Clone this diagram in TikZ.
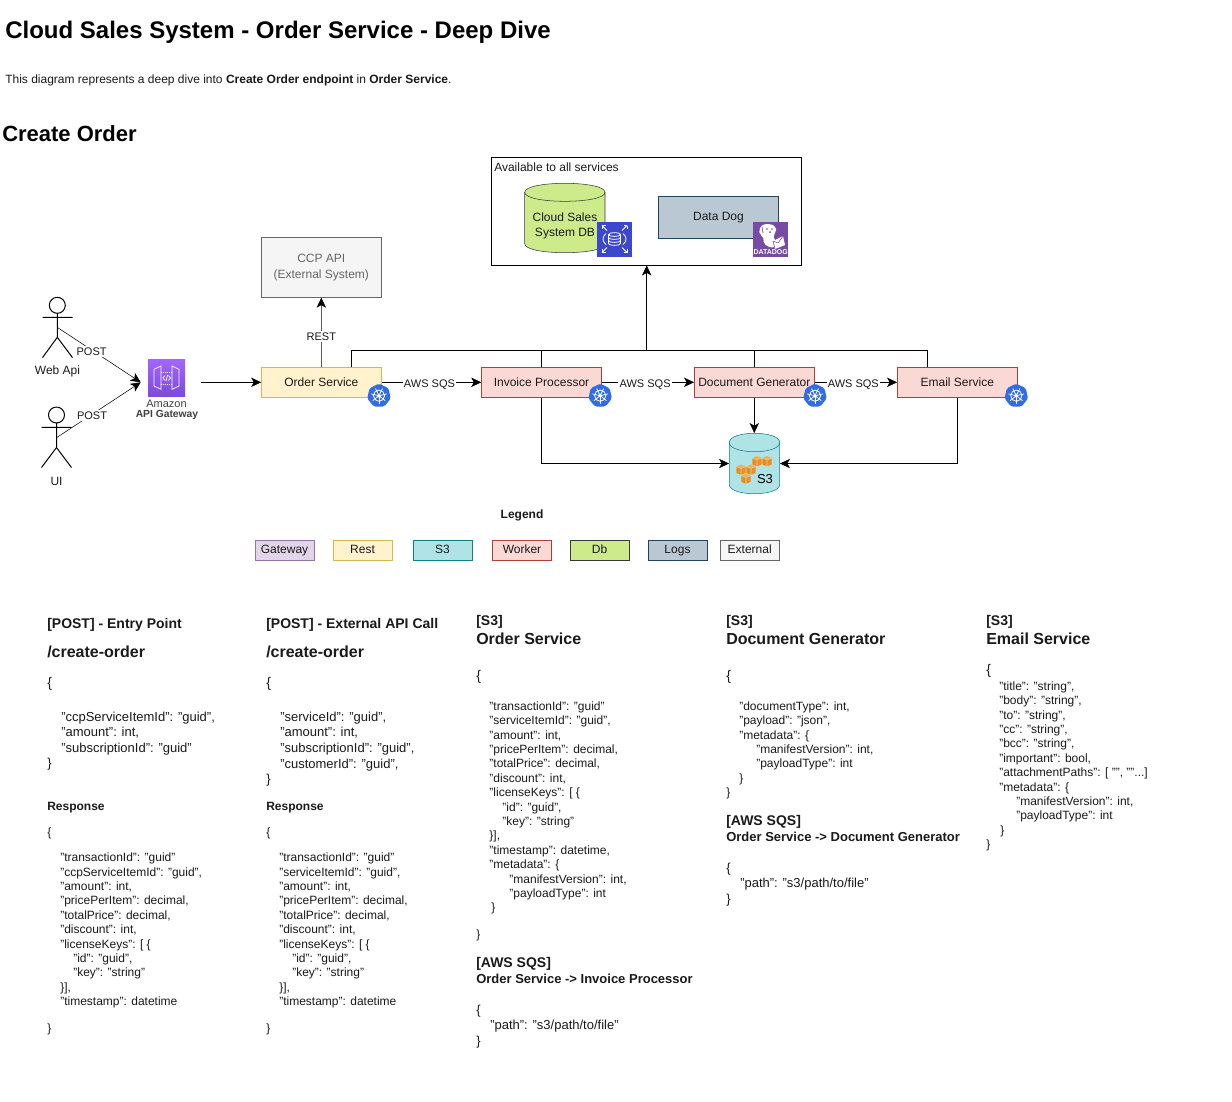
\documentclass[tikz,border=0pt]{standalone}
\usepackage{fontspec}
\setmainfont{Liberation Sans}
\usetikzlibrary{arrows.meta,shapes.geometric,calc}
\definecolor{txt}{HTML}{1A1A1A}
\newcommand\fpx[1]{\fontsize{\dimexpr#1pt*3/4\relax}{\dimexpr#1pt*9/10\relax}\selectfont}
\newcommand\ind[1]{\hspace*{\dimexpr#1pt*3/4\relax}}
% a block of left aligned text: name, x, baseline of first line, style, text
\newcommand\blk[5]{\node[textblock,#4] (#1) at (#2,{#3-20}) {\rule{0pt}{15pt}#5};}
\tikzset{
  x=0.75pt,y=-0.75pt,
  line width=0.75pt,
  textblock/.style={anchor=north west,inner sep=0pt,align=left,text=txt,font=\fpx{12}},
  body/.style={font=\fpx{12}},
  big/.style={font=\fpx{13}},
  brace/.style={font=\fpx{14}},
  headA/.style={font=\fpx{14}\bfseries},
  headB/.style={font=\fpx{16}\bfseries},
  conn/.style={draw=black,-{Stealth[length=7.5pt,width=7pt,inset=2pt]}},
  plainconn/.style={draw=black},
  lab/.style={fill=white,inner sep=1pt,font=\fpx{11},text=txt,text height=6.2pt,text depth=0.4pt,yshift=-1pt},
  svc/.style={draw,minimum width=90pt,minimum height=22.5pt,inner sep=0pt,font=\fpx{12},text=txt},
  restbox/.style={svc,fill=rfill,draw=rline},
  workbox/.style={svc,fill=wfill,draw=wline},
  legbox/.style={draw,minimum width=44.5pt,minimum height=15pt,inner sep=0pt,font=\fpx{12},text=txt,text height=6.5pt,text depth=1.5pt},
  ghost/.style={inner sep=0pt,minimum width=#1},
  plainlabel/.style={inner sep=0pt,font=\fpx{12},text=txt,align=center},
  kube/.style={regular polygon,regular polygon sides=7,fill=kblue,draw=kblue,line width=1pt,rounded corners=1.2pt,minimum size=17pt,inner sep=0pt},
  actor/.style={draw=black,line width=0.75pt},
}
\definecolor{rfill}{HTML}{FFF2CC}\definecolor{rline}{HTML}{D6B656}
\definecolor{wfill}{HTML}{FAD9D5}\definecolor{wline}{HTML}{AE4132}
\definecolor{sfill}{HTML}{B0E3E6}\definecolor{sline}{HTML}{0E8088}
\definecolor{dfill}{HTML}{CDEB8B}\definecolor{dline}{HTML}{36393D}
\definecolor{lfill}{HTML}{BAC8D3}\definecolor{lline}{HTML}{23445D}
\definecolor{gfill}{HTML}{E1D5E7}\definecolor{gline}{HTML}{9673A6}
\definecolor{efill}{HTML}{F5F5F5}\definecolor{eline}{HTML}{666666}
\definecolor{kblue}{HTML}{326CE5}
\definecolor{ddog}{HTML}{774AA4}
\definecolor{rds}{HTML}{3B48CC}
\definecolor{gwtop}{HTML}{A166FF}\definecolor{gwbot}{HTML}{7C4AD9}
\definecolor{orA}{HTML}{F58A1F}\definecolor{orB}{HTML}{F9B04A}\definecolor{orC}{HTML}{F08A12}
\newcommand\kubeicon[3]{%
  \node[kube] (#1) at (#2,#3) {};
  \draw[white,line width=0.6pt] (#2,#3) circle[radius=5.6];
  \draw[white,line width=0.9pt] (#2,#3) circle[radius=1.3];
  \foreach \a in {90,141.4,192.9,244.3,295.7,347.1,38.6}
    \draw[white,line width=0.55pt] ($(#2,#3)+(\a:1.3)$) -- ($(#2,#3)+(\a:8)$);
}
\newcommand\cube[2]{%
  \fill[orB] ({#1-4.6},{#2-3}) -- (#1,{#2-5}) -- ({#1+4.6},{#2-3}) -- (#1,{#2-1.4}) -- cycle;
  \fill[orC] ({#1-4.6},{#2-2.4}) -- ({#1-0.3},{#2-0.8}) -- ({#1-0.3},{#2+5.2}) -- ({#1-4.6},{#2+3.4}) -- cycle;
  \fill[orA] ({#1+4.6},{#2-2.4}) -- ({#1+0.3},{#2-0.8}) -- ({#1+0.3},{#2+5.2}) -- ({#1+4.6},{#2+3.4}) -- cycle;
}
\begin{document}
\begin{tikzpicture}
\useasboundingbox (0,0) rectangle (1232,1101);
\fill[white] (0,0) rectangle (1232,1101);

% headings
\node[textblock,font=\fpx{24}\bfseries,text=black] (title) at (5,{38-20}) {\rule{0pt}{15pt}Cloud Sales System - Order Service - Deep Dive};
\blk{intro}{5}{83}{body}{This diagram represents a deep dive into \textbf{Create Order endpoint} in \textbf{Order Service}.}
\node[textblock,font=\fpx{22}\bfseries,text=black] (sec) at (2,{141.5-20}) {\rule{0pt}{15pt}Create Order};

% shared services
\node[draw=black,minimum width=232.5pt,minimum height=81pt,inner sep=0pt] (avail) at (646.7,211.2) {};
\node[plainlabel,anchor=west] (availt) at (494,167) {Available to all services};
\draw[fill=dfill,draw=dline] (524.7,192.3) -- (524.7,243.7) .. controls (524.7,255.7) and (605,255.7) .. (605,243.7) -- (605,192.3) .. controls (605,180.3) and (524.7,180.3) .. cycle;
\draw[draw=dline] (524.7,192.3) .. controls (524.7,204.3) and (605,204.3) .. (605,192.3);
\node[plainlabel] (db) at (565,226) {Cloud Sales\\[0.8pt]System DB};
\node[draw=lline,fill=lfill,minimum width=90.3pt,minimum height=31.5pt,inner sep=0pt,font=\fpx{12},text=txt] (logs) at (718.5,217.7) {Data Dog};

% RDS icon
\node[fill=rds,minimum size=26.2pt,inner sep=0pt] (rdsicon) at (614.5,239.2) {};
\begin{scope}[white,line width=0.6pt]
  \draw (608.5,234.5) -- (608.5,243.5) .. controls (608.5,246) and (620.5,246) .. (620.5,243.5) -- (620.5,234.5) .. controls (620.5,232) and (608.5,232) .. (608.5,234.5) .. controls (608.5,237) and (620.5,237) .. (620.5,234.5);
  \draw (608.5,237.5) .. controls (608.5,240) and (620.5,240) .. (620.5,237.5);
  \draw (608.5,240.5) .. controls (608.5,243) and (620.5,243) .. (620.5,240.5);
  \draw (606,233.5) .. controls (602,237) and (602,241) .. (606,244.5);
  \draw (623,233.5) .. controls (627,237) and (627,241) .. (623,244.5);
  \draw (602,225.5) -- (607,230.5); \draw (602,225.5) -- (602,229); \draw (602,225.5) -- (605.5,225.5);
  \draw (627,225.5) -- (622,230.5); \draw (627,225.5) -- (627,229); \draw (627,225.5) -- (623.5,225.5);
  \draw (602,252.5) -- (607,247.5); \draw (602,252.5) -- (602,249); \draw (602,252.5) -- (605.5,252.5);
  \draw (627,252.5) -- (622,247.5); \draw (627,252.5) -- (627,249); \draw (627,252.5) -- (623.5,252.5);
\end{scope}

% Datadog icon
\node[fill=ddog,minimum size=26.2pt,inner sep=0pt] (ddicon) at (770.7,239.3) {};
\fill[white,rounded corners=1.5pt] (761,226) -- (764,224) -- (771,224) -- (776,227) -- (776,232) -- (773,236) -- (775,240) -- (778,246) -- (771,248) -- (764,244) -- (763,236) -- (760,235) -- (759,230) -- cycle;
\fill[white] (773,241) -- (783,236) -- (785,245) -- (775,249) -- cycle;
\draw[ddog,line width=0.4pt] (773,241) -- (778,243) -- (783,236);
\draw[ddog,line width=0.4pt] (775,249) -- (773,241);
\fill[ddog] (767,229) circle[radius=0.8] (772,229) circle[radius=0.8] (770,232) circle[radius=1];
\draw[ddog,line width=0.5pt] (762,227) -- (763,233);
\node[inner sep=0pt,font=\fpx{7}\bfseries,text=white] (ddt) at (770.7,252.5) {DATADOG};

% external
\node[draw=eline,fill=efill,minimum width=90pt,minimum height=45pt,inner sep=0pt,align=center,font=\fpx{12},text=eline] (ccp) at (321.3,267.4) {CCP API\\[0.9pt](External System)};

% services
\node[restbox] (order) at (321.4,382.3) {Order Service};
\node[workbox] (invoice) at (541.5,382.3) {Invoice Processor};
\node[workbox] (doc) at (754.3,382.3) {Document Generator};
\node[workbox] (email) at (957.3,382.3) {Email Service};

% S3
\draw[fill=sfill,draw=sline] (729.3,442.5) -- (729.3,484.5) .. controls (729.3,496.8) and (779.7,496.8) .. (779.7,484.5) -- (779.7,442.5) .. controls (779.7,430.2) and (729.3,430.2) .. cycle;
\draw[draw=sline] (729.3,442.5) .. controls (729.3,454.8) and (779.7,454.8) .. (779.7,442.5);
\node[minimum width=37.8pt,minimum height=45.3pt,inner sep=0pt] (s3) at (754.5,463.5) {};
\cube{757}{461}\cube{767}{461}\cube{741}{469.5}\cube{751}{469.5}\cube{746}{478.5}
\node[plainlabel,text=black,font=\fpx{13}] (s3t) at (765,479) {S3};

% gateway
\node[ghost=45pt,minimum height=30pt] (gw) at (171,382.3) {};
\shade[top color=gwtop,bottom color=gwbot] (148,359.5) rectangle (185,396.5);
\begin{scope}[white,line width=0.55pt]
  \draw (154,369.3) -- (161,366) -- (161,389.3) -- (154,386) -- cycle;
  \draw (179,369.3) -- (172,366) -- (172,389.3) -- (179,386) -- cycle;
  \draw[densely dotted] (161,372) -- (172,372) (161,384) -- (172,384);
  \draw (165,375.5) -- (163,378) -- (165,380.5);
  \draw (168.5,375.5) -- (170.5,378) -- (168.5,380.5);
  \draw (167.6,375) -- (166,381);
\end{scope}
\node[plainlabel,font=\fpx{11},text=black!75] (gwa) at (166.5,403.5) {Amazon};
\node[plainlabel,font=\fpx{10.3}\bfseries,text=black!75] (gwb) at (167,415) {API Gateway};

% actors
\draw[actor] (57.3,305.3) circle[radius=8] (57.3,313.3) -- (57.3,337.3) (42.5,317.3) -- (72.5,317.3) (42.5,357.6) -- (57.3,337.3) -- (72.5,357.6);
\coordinate (webapi) at (57.5,327.5);
\node[plainlabel] (webt) at (57.5,371.5) {Web Api};
\draw[actor] (56.5,415) circle[radius=8] (56.5,423) -- (56.5,447.5) (41.5,427.3) -- (71.5,427.3) (41.5,467.5) -- (56.5,447.5) -- (71.5,467.5);
\coordinate (ui) at (56.8,437.5);
\node[plainlabel] (uit) at (56.5,481) {UI};

% connectors
\draw[conn] (webapi) -- node[lab,pos=0.41] (post1) {POST} (gw.west);
\draw[conn] (ui) -- node[lab,pos=0.42] (post2) {POST} (gw.west);
\draw[conn] (gw.east) -- (order.west);
\draw[conn] (order.north) -- node[lab,pos=0.44,yshift=1pt] (rest) {REST} (ccp.south);
\draw[conn] (order.east) -- node[lab,pos=0.48] (q1) {AWS SQS} (invoice.west);
\draw[conn] (invoice.east) -- node[lab,pos=0.47] (q2) {AWS SQS} (doc.west);
\draw[conn] (doc.east) -- node[lab,pos=0.47] (q3) {AWS SQS} (email.west);
\coordinate (bus) at (avail.south |- 0,350.6);
\draw[plainconn] ([xshift=22.3pt]order.north) |- (bus);
\draw[plainconn] ([xshift=-22.5pt]email.north) |- (bus);
\draw[plainconn] (invoice.north) -- (invoice.north |- bus);
\draw[plainconn] (doc.north) -- (doc.north |- bus);
\draw[conn] (bus) -- (avail.south);
\draw[conn] (doc.south) -- (doc.south |- s3.north);
\draw[conn] (invoice.south) |- (s3.west);
\draw[conn] (email.south) |- (s3.east);

% kubernetes badges
\kubeicon{k1}{379}{395.7}
\kubeicon{k2}{600.2}{395.7}
\kubeicon{k3}{815}{395.7}
\kubeicon{k4}{1016.3}{395.7}

% legend
\node[plainlabel,font=\fpx{12}\bfseries] (leg) at (522,515) {Legend};
\node[legbox,fill=gfill,draw=gline] (l1) at (284.5,550.5) {Gateway};
\node[legbox,fill=rfill,draw=rline] (l2) at (362.5,550.5) {Rest};
\node[legbox,fill=sfill,draw=sline] (l3) at (442.5,550.5) {S3};
\node[legbox,fill=wfill,draw=wline] (l4) at (522,550.5) {Worker};
\node[legbox,fill=dfill,draw=dline] (l5) at (599.5,550.5) {Db};
\node[legbox,fill=lfill,draw=lline] (l6) at (677.5,550.5) {Logs};
\node[legbox,fill=efill,draw=eline] (l7) at (749.7,550.5) {External};

% column 1
\blk{a1}{47}{628}{headA}{[POST] - Entry Point}
\blk{a2}{47}{657}{headB}{/create-order}
\blk{a3}{47}{687}{brace}{\{}
\blk{a4}{61}{721}{big}{"ccpServiceItemId": "guid",\\"amount": int,\\"subscriptionId": "guid"}
\blk{a5}{47}{767}{big}{\}}
\blk{a6}{47}{810}{body}{\textbf{Response}}
\blk{a7}{47}{836}{body}{\{}
\blk{a8}{60}{861.5}{body}{"transactionId": "guid"\\"ccpServiceItemId": "guid",\\"amount": int,\\"pricePerItem": decimal,\\"totalPrice": decimal,\\"discount": int,\\"licenseKeys": [ \{\\\ind{13}"id": "guid",\\\ind{13}"key": "string"\\\}],\\"timestamp": datetime}
\blk{a9}{47}{1032}{body}{\}}

% column 2
\blk{b1}{266}{628}{headA}{[POST] - External API Call}
\blk{b2}{266}{657}{headB}{/create-order}
\blk{b3}{266}{687}{brace}{\{}
\blk{b4}{280}{721}{big}{"serviceId": "guid",\\"amount": int,\\"subscriptionId": "guid",\\"customerId": "guid",}
\blk{b5}{266}{783.5}{big}{\}}
\blk{b6}{266}{810}{body}{\textbf{Response}}
\blk{b7}{266}{836}{body}{\{}
\blk{b8}{279}{861.5}{body}{"transactionId": "guid"\\"serviceItemId": "guid",\\"amount": int,\\"pricePerItem": decimal,\\"totalPrice": decimal,\\"discount": int,\\"licenseKeys": [ \{\\\ind{13}"id": "guid",\\\ind{13}"key": "string"\\\}],\\"timestamp": datetime}
\blk{b9}{266}{1032}{body}{\}}

% column 3
\blk{c1}{476}{625.5}{headA}{[S3]}
\blk{c2}{476}{644}{headB}{Order Service}
\blk{c3}{476}{680}{brace}{\{}
\blk{c4}{489.2}{710}{body}{"transactionId": "guid"\\"serviceItemId": "guid",\\"amount": int,\\"pricePerItem": decimal,\\"totalPrice": decimal,\\"discount": int,\\"licenseKeys": [ \{\\\ind{13}"id": "guid",\\\ind{13}"key": "string"\\\}],\\"timestamp": datetime,\\"metadata": \{\\\ind{20}"manifestVersion": int,\\\ind{20}"payloadType": int\\\ind{2}\}}
\blk{c5}{476}{938}{body}{\}}
\blk{c6}{476}{967.5}{headA}{[AWS SQS]}
\blk{c7}{476}{983}{big}{\textbf{Order Service -> Invoice Processor}}
\blk{c8}{476}{1014}{big}{\{}
\blk{c9}{490}{1029.5}{big}{"path": "s3/path/to/file"}
\blk{c10}{476}{1045.5}{big}{\}}

% column 4
\blk{d1}{726}{625.5}{headA}{[S3]}
\blk{d2}{726}{644}{headB}{Document Generator}
\blk{d3}{726}{680}{brace}{\{}
\blk{d4}{739}{710}{body}{"documentType": int,\\"payload": "json",\\"metadata": \{\\\ind{17}"manifestVersion": int,\\\ind{17}"payloadType": int\\\ind{0}\}}
\blk{d5}{726}{796.5}{body}{\}}
\blk{d6}{726}{825.5}{headA}{[AWS SQS]}
\blk{d7}{726}{841}{big}{\textbf{Order Service -> Document Generator}}
\blk{d8}{726}{872}{big}{\{}
\blk{d9}{740}{887}{big}{"path": "s3/path/to/file"}
\blk{d10}{726}{903}{big}{\}}

% column 5
\blk{e1}{986}{625.5}{headA}{[S3]}
\blk{e2}{986}{644}{headB}{Email Service}
\blk{e3}{986}{674.5}{brace}{\{}
\blk{e4}{999}{690}{body}{"title": "string",\\"body": "string",\\"to": "string",\\"cc": "string",\\"bcc": "string",\\"important": bool,\\"attachmentPaths": [ "", ""...]\\"metadata": \{\\\ind{17}"manifestVersion": int,\\\ind{17}"payloadType": int\\\ind{1}\}}
\blk{e5}{986}{848.5}{body}{\}}
\end{tikzpicture}
\end{document}
